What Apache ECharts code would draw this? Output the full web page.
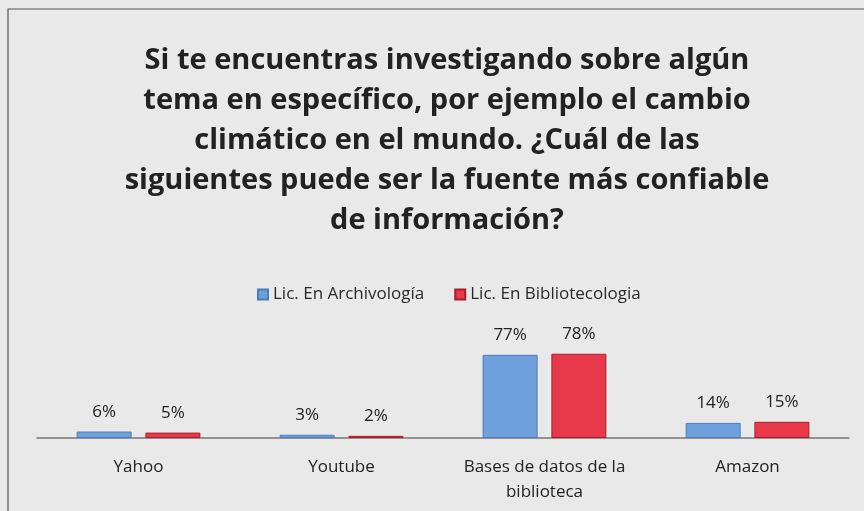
<!DOCTYPE html>
<html>
<head>
	<meta charset="utf-8" />
	<title>Fuente más confiable</title>
	<script type="text/javascript" src="https://cdn.jsdelivr.net/npm/echarts@6/dist/echarts.min.js"></script>
	<style>
		html, body {margin:0;padding:0;background:#e9e9e9;}
		#chart {width:864px;height:511px;}
	</style>
</head>
<body>
	<div id="chart"></div>
	<script>
		var categories = ['Yahoo', 'Youtube', 'Bases de datos de la\nbiblioteca', 'Amazon'];
		var archivo = [6, 3, 77, 14];   // Lic. En Archivología
		var biblio  = [5, 2, 78, 15];   // Lic. En Bibliotecologia

		var chart = echarts.init(document.getElementById('chart'));
		var font = '"Open Sans", "Noto Sans", sans-serif';

		var option = {
			backgroundColor: '#e9e9e9',
			textStyle: {fontFamily: font},
			title: {
				text: 'Si te encuentras investigando sobre algún\ntema en específico, por ejemplo el cambio\nclimático en el mundo. ¿Cuál de las\nsiguientes puede ser la fuente más confiable\nde información?',
				left: 442,
				top: 36,
				textAlign: 'center',
				textStyle: {
					fontFamily: font,
					fontSize: 29,
					fontWeight: 'bold',
					color: '#222',
					lineHeight: 40
				}
			},
			legend: {
				top: 281,
				left: 252,
				itemWidth: 10,
				itemHeight: 10,
				itemGap: 30,
				icon: 'rect',
				textStyle: {fontSize: 17, color: '#2a2a2a', fontFamily: font},
				data: ['Lic. En Archivología', 'Lic. En Bibliotecologia']
			},
			grid: {
				left: 37,
				right: 15,
				top: 330,
				bottom: 73
			},
			xAxis: {
				type: 'category',
				data: categories,
				axisLine: {lineStyle: {color: '#777', width: 1.5}},
				axisTick: {show: false},
				axisLabel: {interval: 0, fontSize: 17, color: '#222', margin: 17, lineHeight: 25}
			},
			yAxis: {
				type: 'value',
				min: 0,
				max: 100,
				show: false,
				splitLine: {show: false}
			},
			graphic: [{
				type: 'rect',
				shape: {x: 8, y: 9, width: 900, height: 520},
				style: {fill: 'none', stroke: '#555', lineWidth: 1.2},
				silent: true
			}],
			series: [
				{
					name: 'Lic. En Archivología',
					type: 'bar',
					data: archivo,
					barWidth: 55,
					barGap: '25%',
					itemStyle: {color: '#6fa0dc', borderColor: '#4d7cba', borderWidth: 1},
					label: {show: true, position: 'top', distance: 11, formatter: '{c}%', fontSize: 17, color: '#222'}
				},
				{
					name: 'Lic. En Bibliotecologia',
					type: 'bar',
					data: biblio,
					barWidth: 55,
					itemStyle: {color: '#e8394a', borderColor: '#a81e2c', borderWidth: 1},
					label: {show: true, position: 'top', distance: 11, formatter: '{c}%', fontSize: 17, color: '#222'}
				}
			]
		};

		chart.setOption(option);
	</script>
</body>
</html>
